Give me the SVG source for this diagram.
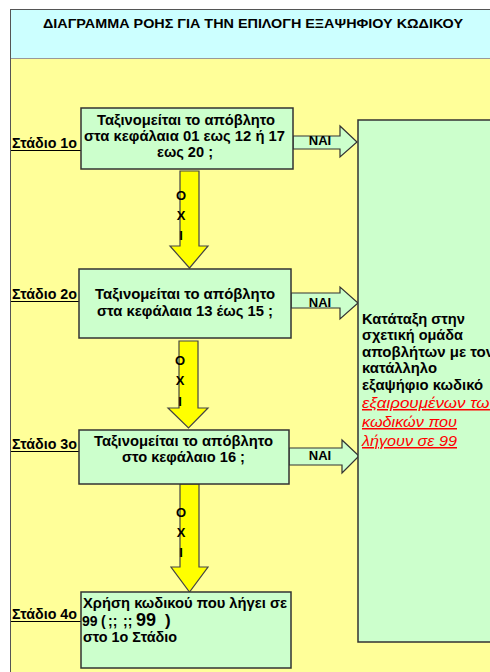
<svg xmlns="http://www.w3.org/2000/svg" width="490" height="672" viewBox="0 0 490 672">
<defs>
<style>
.t{font-family:"Liberation Sans",Arial,sans-serif;font-weight:bold;fill:#000}
.box{fill:#CCFFCC;stroke:#333;stroke-width:1.5}
.yarr{fill:#FFFF00;stroke:#444;stroke-width:1.2}
.garr{fill:#CCFFCC;stroke:#333;stroke-width:1.2}
.ul{stroke:#000;stroke-width:1}
.red{font-family:"Liberation Sans",Arial,sans-serif;font-style:italic;fill:#FF0000;font-size:15px;text-decoration:underline}
</style>
</defs>
<rect x="0" y="0" width="490" height="672" fill="#FFFFFF"/>
<g id="frame">
<rect x="10.5" y="9.5" width="490" height="680" fill="#FFFF99" stroke="#555" stroke-width="1"/>
<rect x="11" y="10" width="480" height="48" fill="#CCFFFF"/>
<line x1="11" y1="58.5" x2="490" y2="58.5" stroke="#999" stroke-width="1"/>
<text class="t" x="43" y="28" font-size="13.5" textLength="420" lengthAdjust="spacingAndGlyphs">ΔΙΑΓΡΑΜΜΑ ΡΟΗΣ ΓΙΑ ΤΗΝ ΕΠΙΛΟΓΗ ΕΞΑΨΗΦΙΟΥ ΚΩΔΙΚΟΥ</text>
</g>
<g id="connectors">
<path class="yarr" d="M180,171 H199 V246 H208 L189.5,268 L170,246 H180 Z"/>
<path class="yarr" d="M179,341 H198 V408 H208 L188.5,428 L168,408 H179 Z"/>
<path class="yarr" d="M180,484 H199 V567 H208 L189.5,592 L171,567 H180 Z"/>
<path class="garr" d="M293,136 H340 V126 L357,142 L340,157 V149 H293 Z"/>
<path class="garr" d="M291,293 H340 V287 L358,303 L340,319 V308 H291 Z"/>
<path class="garr" d="M289,448 H342 V440 L359,456 L342,473 V465 H289 Z"/>
<g class="t" font-size="13" text-anchor="middle">
<text x="320" y="145">NAI</text>
<text x="320" y="307">NAI</text>
<text x="320" y="460">NAI</text>
<text x="181" y="200">O</text><text x="181" y="220">X</text><text x="181" y="240">I</text>
<text x="180" y="365">O</text><text x="180" y="385">X</text><text x="180" y="406">I</text>
<text x="181" y="517">O</text><text x="181" y="537">X</text><text x="181" y="557">I</text>
</g>
<line class="ul" x1="11" y1="150.5" x2="81" y2="150.5"/>
<line class="ul" x1="11" y1="301.5" x2="79" y2="301.5"/>
<line class="ul" x1="11" y1="451.5" x2="79" y2="451.5"/>
<line class="ul" x1="11" y1="621.5" x2="81" y2="621.5"/>
</g>
<g id="stage-labels" class="t" font-size="14">
<text x="12" y="148" textLength="65" lengthAdjust="spacingAndGlyphs">Στάδιο 1ο</text>
<text x="12" y="299" textLength="65" lengthAdjust="spacingAndGlyphs">Στάδιο 2ο</text>
<text x="12" y="449" textLength="65" lengthAdjust="spacingAndGlyphs">Στάδιο 3ο</text>
<text x="12" y="619" textLength="65" lengthAdjust="spacingAndGlyphs">Στάδιο 4ο</text>
</g>
<g id="node1">
<rect class="box" x="81" y="108" width="212" height="61"/>
<g class="t" font-size="14.5">
<text x="97" y="125" textLength="178" lengthAdjust="spacingAndGlyphs">Ταξινομείται το απόβλητο</text>
<text x="84" y="141" textLength="201" lengthAdjust="spacingAndGlyphs">στα κεφάλαια 01 εως 12 ή 17</text>
<text x="157" y="157" textLength="56" lengthAdjust="spacingAndGlyphs">εως 20 ;</text>
</g>
</g>
<g id="node2">
<rect class="box" x="79" y="269" width="212" height="69"/>
<g class="t" font-size="14.5">
<text x="95" y="299" textLength="180" lengthAdjust="spacingAndGlyphs">Ταξινομείται το απόβλητο</text>
<text x="97" y="316" textLength="176" lengthAdjust="spacingAndGlyphs">στα κεφάλαια 13 έως 15 ;</text>
</g>
</g>
<g id="node3">
<rect class="box" x="79" y="430" width="210" height="54"/>
<g class="t" font-size="14.5">
<text x="94" y="446" textLength="179" lengthAdjust="spacingAndGlyphs">Ταξινομείται το απόβλητο</text>
<text x="122" y="462" textLength="123" lengthAdjust="spacingAndGlyphs">στο κεφάλαιο 16 ;</text>
</g>
</g>
<g id="node4">
<rect class="box" x="81" y="592" width="210" height="76"/>
<g class="t" font-size="14.5">
<text x="83" y="608" textLength="204" lengthAdjust="spacingAndGlyphs">Χρήση κωδικού που λήγει σε</text>
<text y="626" font-size="14"><tspan x="82">99</tspan><tspan x="101">(</tspan><tspan x="108">;;</tspan><tspan x="123">;;</tspan><tspan x="136" font-size="18">99</tspan><tspan x="165" font-size="17">)</tspan></text>
<text x="83" y="642" textLength="94" lengthAdjust="spacingAndGlyphs">στο 1ο Στάδιο</text>
</g>
</g>
<g id="result">
<rect class="box" x="358" y="120" width="140" height="522"/>
<g class="t" font-size="14.5">
<text x="362" y="324" textLength="103" lengthAdjust="spacingAndGlyphs">Κατάταξη  στην</text>
<text x="362" y="340" textLength="101" lengthAdjust="spacingAndGlyphs">σχετική ομάδα</text>
<text x="362" y="357" textLength="132" lengthAdjust="spacingAndGlyphs">αποβλήτων με τον</text>
<text x="362" y="373" textLength="75" lengthAdjust="spacingAndGlyphs">κατάλληλο</text>
<text x="362" y="390" textLength="121" lengthAdjust="spacingAndGlyphs">εξαψήφιο κωδικό</text>
</g>
<text class="red" x="362" y="408" textLength="136" lengthAdjust="spacingAndGlyphs">εξαιρουμένων των</text>
<text class="red" x="362" y="427" textLength="95" lengthAdjust="spacingAndGlyphs">κωδικών που</text>
<text class="red" x="362" y="446" textLength="95" lengthAdjust="spacingAndGlyphs">λήγουν σε 99</text>
</g>
</svg>
